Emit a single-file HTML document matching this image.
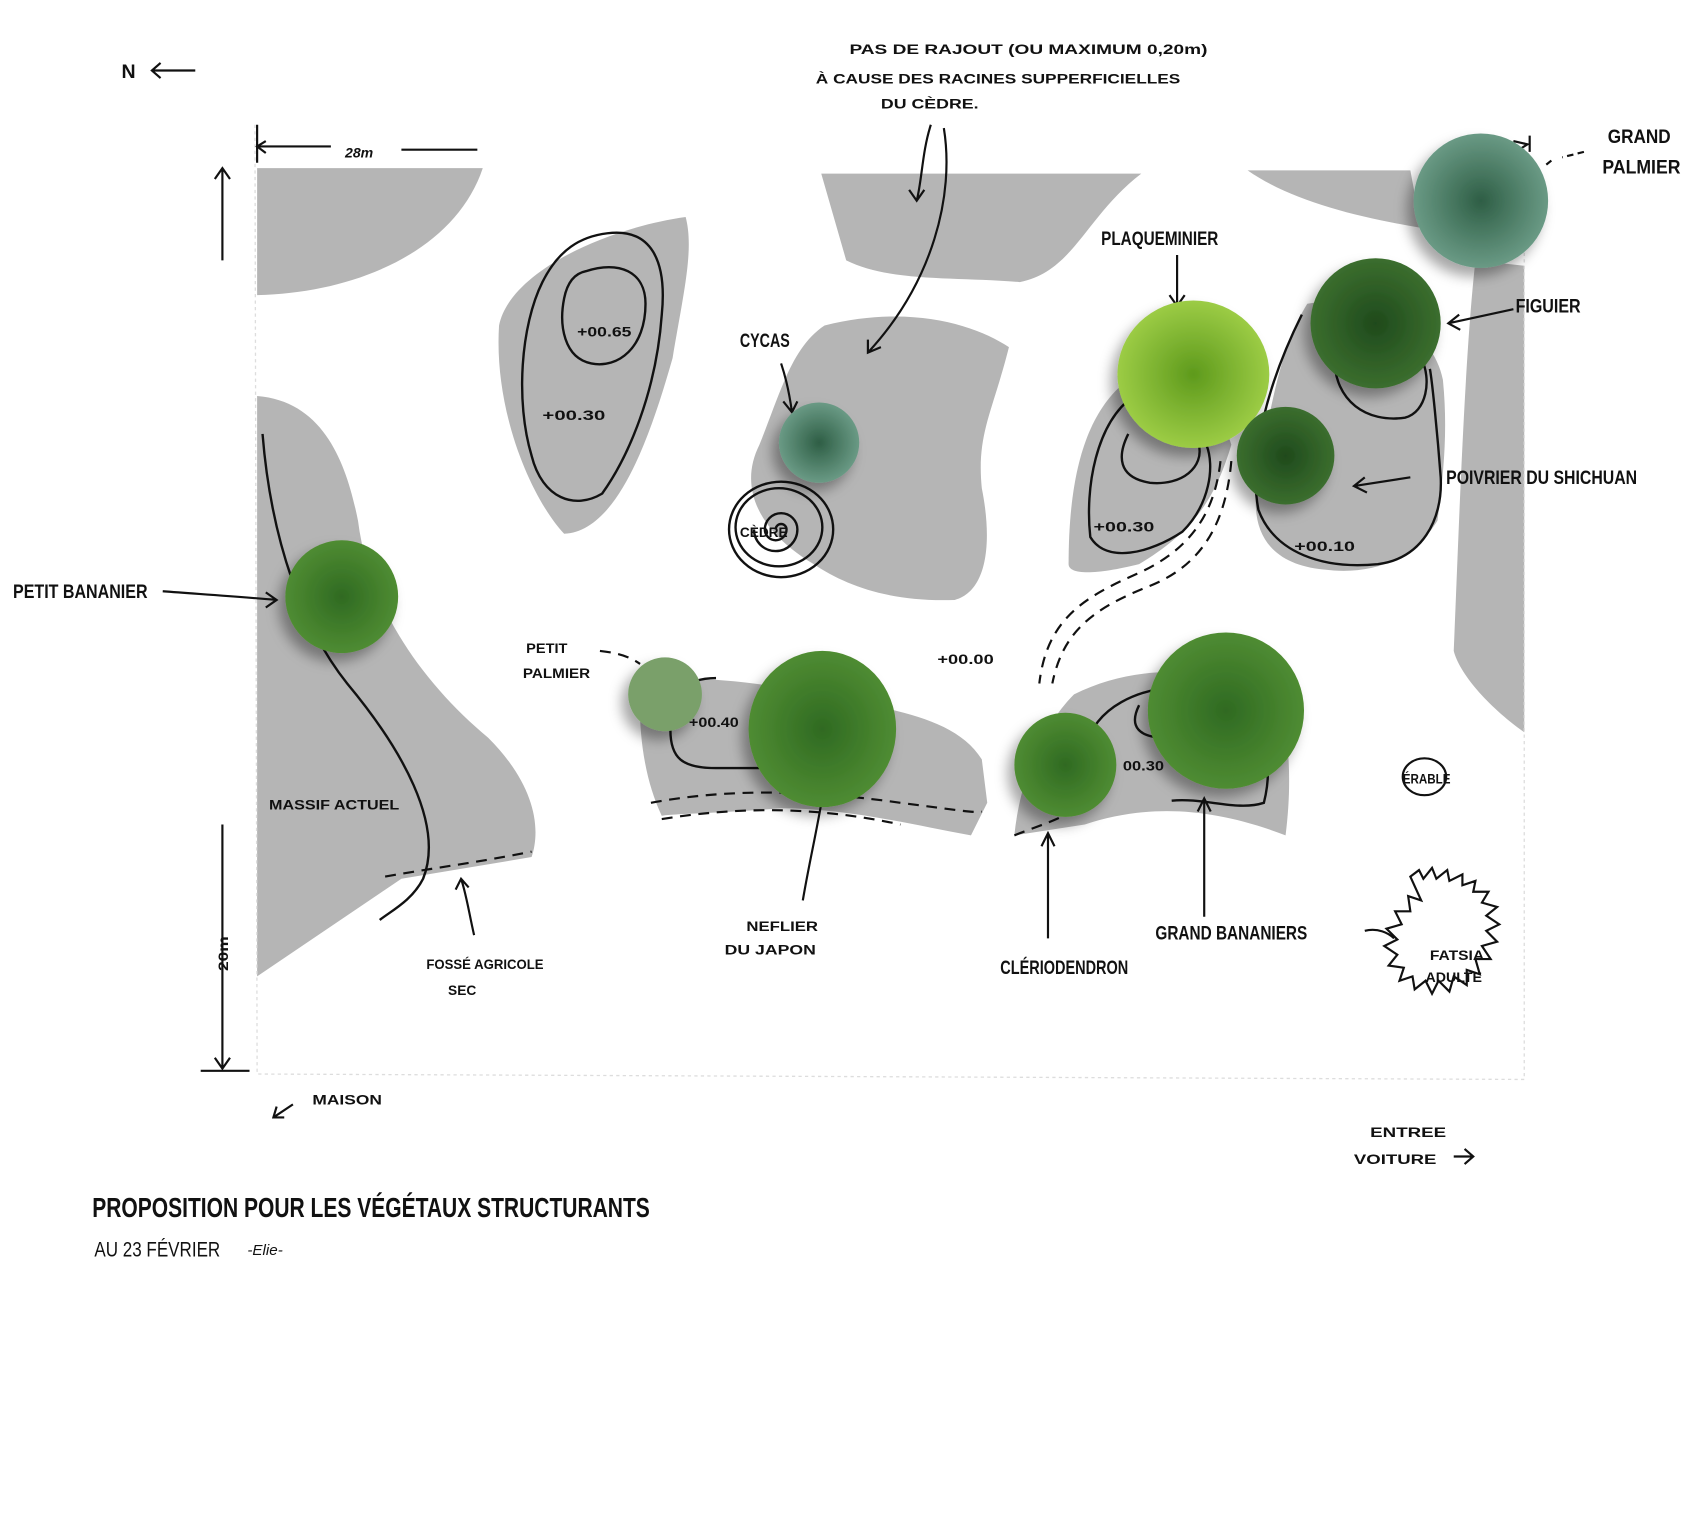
<!DOCTYPE html>
<html><head><meta charset="utf-8"><style>
html,body{margin:0;padding:0;background:#fff;width:1700px;height:1521px;overflow:hidden}
svg{display:block}
text{font-family:"Liberation Sans Narrow","Liberation Sans",sans-serif;fill:#111}
.l{font-size:18px;font-weight:bold}
.s{font-size:13px;font-weight:bold}
</style></head><body>
<svg width="1700" height="1521" viewBox="0 0 1567 1402" xmlns="http://www.w3.org/2000/svg">
<defs>
<filter id="sh" x="-30%" y="-30%" width="160%" height="160%"><feDropShadow dx="-6" dy="8" stdDeviation="6" flood-color="#000" flood-opacity="0.35"/></filter>
<radialGradient id="g1"><stop offset="0" stop-color="#2f6a22"/><stop offset="1" stop-color="#4f8c32"/></radialGradient>
<radialGradient id="g2"><stop offset="0" stop-color="#1f4a1c"/><stop offset="1" stop-color="#3b6e2e"/></radialGradient>
<radialGradient id="g3"><stop offset="0" stop-color="#5e9a1c"/><stop offset="1" stop-color="#9ccc45"/></radialGradient>
<radialGradient id="g4"><stop offset="0" stop-color="#2e5e45"/><stop offset="1" stop-color="#6a9a85"/></radialGradient>
</defs>
<g fill="#b5b5b5">
<path d="M237 155 L445 155 C420 230 330 270 237 272 Z"/>
<path d="M757 160 L1052 160 C1000 200 990 250 940 260 C880 255 820 260 780 240 Z"/>
<path d="M1150 157 L1300 157 L1310 210 C1250 200 1190 185 1150 157 Z"/>
<path d="M1360 240 L1405 245 L1405 675 C1370 650 1345 620 1340 600 C1345 480 1350 330 1360 240 Z"/>
<path d="M632 200 C560 210 470 250 460 300 C455 380 490 460 520 492 C570 490 600 400 620 330 C630 270 640 230 632 200 Z"/>
<path d="M760 300 C840 280 900 300 930 320 C915 380 900 400 905 450 C915 500 910 545 880 553 C820 555 780 540 750 520 C700 490 680 450 700 410 C720 360 730 320 760 300 Z"/>
<path d="M237 365 C300 370 320 430 330 480 C340 560 390 630 450 680 C490 720 500 760 490 790 L370 810 L237 900 Z"/>
<path d="M1040 350 C1080 345 1120 360 1135 410 C1120 460 1100 490 1050 520 C1010 530 985 530 985 520 C985 440 1000 380 1040 350 Z"/>
<path d="M1205 280 C1260 270 1320 300 1330 350 C1335 400 1330 440 1325 480 C1300 520 1260 530 1220 525 C1170 520 1150 490 1160 440 C1170 380 1180 320 1205 280 Z"/>
<path d="M590 630 C640 620 700 630 760 640 C820 655 880 660 905 700 L910 740 L895 770 C840 760 780 745 720 745 C660 750 620 750 610 752 C595 720 588 680 590 630 Z"/>
<path d="M990 640 C1050 610 1120 615 1180 640 C1190 690 1190 730 1185 770 C1120 745 1060 740 1000 760 L935 770 C940 720 960 670 990 640 Z"/>
</g>
<g fill="none" stroke="#111" stroke-width="2.2">
<path d="M540 250 C570 240 595 250 595 280 C595 320 570 340 545 335 C520 330 515 300 520 275 C523 260 530 252 540 250 Z"/>
<path d="M560 215 C600 210 615 240 610 290 C605 360 580 420 555 455 C530 470 500 460 490 420 C475 370 480 300 500 260 C515 230 535 218 560 215 Z"/>
<path d="M242 400 C250 500 280 580 320 630 C370 690 410 760 390 810 C380 830 360 840 350 848"/>
<path d="M1230 330 C1230 370 1260 390 1295 385 C1315 380 1320 350 1310 330"/>
<path d="M1200 290 C1170 350 1150 420 1160 470 C1175 510 1220 525 1270 520 C1310 515 1330 480 1328 440 C1325 400 1320 350 1318 340"/>
<path d="M1040 400 C1030 420 1030 440 1060 445 C1090 448 1110 430 1105 410"/>
<path d="M1045 365 C1010 390 1000 450 1005 495 C1020 520 1060 510 1090 490 C1115 465 1120 430 1112 410"/>
<path d="M660 625 C630 625 620 640 618 670 C617 700 630 708 660 708 L700 708"/>
<path d="M1000 690 C1010 650 1050 635 1090 632"/>
<path d="M1050 650 C1040 670 1050 680 1075 680"/>
<path d="M1080 738 C1110 735 1140 748 1165 740 C1170 720 1170 700 1165 690"/>
<ellipse cx="720" cy="488" rx="48" ry="44"/><ellipse cx="718" cy="486" rx="40" ry="36"/>
<path d="M720 488 m-5 0 a5 5 0 1 1 10 0 a10 10 0 1 1 -20 0 a15 15 0 1 1 30 0 a20 20 0 1 1 -40 0"/>
</g>
<g fill="none" stroke="#111" stroke-width="2" stroke-dasharray="10 7">
<path d="M600 740 C680 725 760 730 830 740 C870 745 900 750 905 748"/>
<path d="M610 755 C690 742 760 745 830 760"/>
<path d="M935 770 C960 760 980 755 1000 740"/>
<path d="M355 808 C400 800 440 795 490 785"/>
<path d="M1135 425 C1130 480 1110 520 1060 540 C1010 560 980 580 970 630"/>
<path d="M1125 425 C1120 470 1100 505 1050 528 C1000 550 965 570 958 630"/>
<path d="M553 600 C570 602 580 605 590 612"/>
</g>
<g stroke="#ddd" stroke-width="1.2" fill="none" stroke-dasharray="3 3">
<path d="M235 115 L237 990 L1405 995 L1405 130"/>
</g>
<g stroke="#111" stroke-width="2" fill="none">
<path d="M237 115 V150 M237 135 H305 M370 138 H440"/>
<path d="M245 130 L237 135 L245 141"/>
<path d="M205 155 V240 M198 165 L205 155 L212 165 M205 760 V985 M198 975 L205 985 L212 975 M185 987 H230"/>
<path d="M140 65 H180 M148 58 L140 65 L148 72"/>
<path d="M858 115 C850 140 850 165 845 185 M838 175 L845 185 L852 175"/>
<path d="M870 118 C880 180 860 260 800 325 M800 313 L800 325 L812 320"/>
<path d="M720 335 C725 350 728 365 730 380 M722 370 L730 380 L735 370"/>
<path d="M150 545 C190 548 220 550 255 553 M245 546 L255 553 L245 560"/>
<path d="M1085 235 V280 M1078 272 L1085 282 L1092 272"/>
<path d="M1395 285 L1335 298 M1345 290 L1335 298 L1346 304"/>
<path d="M1300 440 L1248 448 M1258 440 L1248 448 L1260 454"/>
<path d="M740 830 C745 800 752 770 758 735"/>
<path d="M966 865 V770 M960 780 L966 768 L972 780"/>
<path d="M1110 845 V738 M1104 748 L1110 736 L1116 748"/>
<path d="M437 862 C432 840 430 825 425 810 M420 820 L425 810 L432 818"/>
<path d="M270 1018 L252 1030 M255 1020 L252 1030 L262 1030"/>
<path d="M1340 1066 H1358 M1350 1059 L1358 1066 L1350 1073"/>
<path d="M1410 125 V140 M1395 130 L1408 133 L1397 140"/>
<path d="M1460 140 L1440 145 M1430 148 L1425 152" stroke-dasharray="6 4"/>
<ellipse cx="1313" cy="716" rx="20" ry="17"/>
<path d="M1300 808 l8 -6 l4 8 l8 -10 l4 10 l10 -8 l2 10 l12 -6 l0 10 l12 -4 l-2 10 l14 0 l-6 10 l14 4 l-10 8 l12 8 l-12 6 l10 10 l-14 4 l8 12 l-14 0 l4 14 l-12 -4 l0 14 l-12 -8 l-4 14 l-10 -10 l-6 12 l-6 -12 l-10 8 l-2 -12 l-12 4 l4 -12 l-14 -2 l8 -10 l-12 -8 l12 -6 l-10 -10 l14 -4 l-6 -12 l14 0 l-2 -14 l12 4 z"/>
<path d="M1258 858 C1270 855 1280 860 1285 865"/>
</g>
<g filter="url(#sh)">
<circle cx="1365" cy="185" r="62" fill="url(#g4)"/>
<circle cx="1268" cy="298" r="60" fill="url(#g2)"/>
<ellipse cx="1100" cy="345" rx="70" ry="68" fill="url(#g3)"/>
<circle cx="1185" cy="420" r="45" fill="url(#g2)"/>
<circle cx="755" cy="408" r="37" fill="url(#g4)"/>
<circle cx="315" cy="550" r="52" fill="url(#g1)"/>
<circle cx="613" cy="640" r="34" fill="#7aa06a"/>
<ellipse cx="758" cy="672" rx="68" ry="72" fill="url(#g1)"/>
<ellipse cx="982" cy="705" rx="47" ry="48" fill="url(#g1)"/>
<circle cx="1130" cy="655" r="72" fill="url(#g1)"/>
</g>
<text class="l" x="112" y="72">N</text>
<text class="s" x="318" y="145" font-style="italic">28m</text>
<text class="s" x="210" y="895" transform="rotate(-90 210 895)" textLength="32" lengthAdjust="spacingAndGlyphs">20m</text>
<text class="s" x="783" y="50" textLength="330" lengthAdjust="spacingAndGlyphs">PAS DE RAJOUT (OU MAXIMUM 0,20m)</text>
<text class="s" x="752" y="77" textLength="336" lengthAdjust="spacingAndGlyphs">À CAUSE DES RACINES SUPPERFICIELLES</text>
<text class="s" x="812" y="100" textLength="90" lengthAdjust="spacingAndGlyphs">DU CÈDRE.</text>
<text class="l" x="1482" y="132" textLength="58" lengthAdjust="spacingAndGlyphs">GRAND</text>
<text class="l" x="1477" y="160" textLength="72" lengthAdjust="spacingAndGlyphs">PALMIER</text>
<text class="l" x="1015" y="226" textLength="108" lengthAdjust="spacingAndGlyphs">PLAQUEMINIER</text>
<text class="l" x="1397" y="288" textLength="60" lengthAdjust="spacingAndGlyphs">FIGUIER</text>
<text class="l" x="1333" y="446" textLength="176" lengthAdjust="spacingAndGlyphs">POIVRIER DU SHICHUAN</text>
<text class="l" x="682" y="320" textLength="46" lengthAdjust="spacingAndGlyphs">CYCAS</text>
<text class="s" x="532" y="310" textLength="50" lengthAdjust="spacingAndGlyphs">+00.65</text>
<text class="s" x="500" y="387" textLength="58" lengthAdjust="spacingAndGlyphs">+00.30</text>
<text class="s" x="682" y="495" textLength="44" lengthAdjust="spacingAndGlyphs">CÈDRE</text>
<text class="s" x="1008" y="490" textLength="56" lengthAdjust="spacingAndGlyphs">+00.30</text>
<text class="s" x="1193" y="508" textLength="56" lengthAdjust="spacingAndGlyphs">+00.10</text>
<text class="l" x="12" y="551" textLength="124" lengthAdjust="spacingAndGlyphs">PETIT BANANIER</text>
<text class="s" x="485" y="602" textLength="38" lengthAdjust="spacingAndGlyphs">PETIT</text>
<text class="s" x="482" y="625" textLength="62" lengthAdjust="spacingAndGlyphs">PALMIER</text>
<text class="s" x="864" y="612" textLength="52" lengthAdjust="spacingAndGlyphs">+00.00</text>
<text class="s" x="635" y="670" textLength="46" lengthAdjust="spacingAndGlyphs">+00.40</text>
<text class="s" x="1035" y="710" textLength="38" lengthAdjust="spacingAndGlyphs">00.30</text>
<text class="s" x="1293" y="722" textLength="44" lengthAdjust="spacingAndGlyphs">ÉRABLE</text>
<text class="s" x="248" y="746" textLength="120" lengthAdjust="spacingAndGlyphs">MASSIF ACTUEL</text>
<text class="s" x="688" y="858" textLength="66" lengthAdjust="spacingAndGlyphs">NEFLIER</text>
<text class="s" x="668" y="880" textLength="84" lengthAdjust="spacingAndGlyphs">DU JAPON</text>
<text class="l" x="1065" y="866" textLength="140" lengthAdjust="spacingAndGlyphs">GRAND BANANIERS</text>
<text class="l" x="922" y="898" textLength="118" lengthAdjust="spacingAndGlyphs">CLÉRIODENDRON</text>
<text class="s" x="393" y="893" textLength="108" lengthAdjust="spacingAndGlyphs">FOSSÉ AGRICOLE</text>
<text class="s" x="413" y="917" textLength="26" lengthAdjust="spacingAndGlyphs">SEC</text>
<text class="s" x="1318" y="885" textLength="50" lengthAdjust="spacingAndGlyphs">FATSIA</text>
<text class="s" x="1314" y="905" textLength="52" lengthAdjust="spacingAndGlyphs">ADULTE</text>
<text class="s" x="288" y="1018" textLength="64" lengthAdjust="spacingAndGlyphs">MAISON</text>
<text class="s" x="1263" y="1048" textLength="70" lengthAdjust="spacingAndGlyphs">ENTREE</text>
<text class="s" x="1248" y="1073" textLength="76" lengthAdjust="spacingAndGlyphs">VOITURE</text>
<text x="85" y="1122" style="font-size:26px;font-weight:bold" textLength="514" lengthAdjust="spacingAndGlyphs">PROPOSITION POUR LES VÉGÉTAUX STRUCTURANTS</text>
<text x="87" y="1158" style="font-size:20px" textLength="116" lengthAdjust="spacingAndGlyphs">AU 23 FÉVRIER</text>
<text x="228" y="1157" style="font-size:14px;font-style:italic">-Elie-</text>
</svg>
</body></html>
